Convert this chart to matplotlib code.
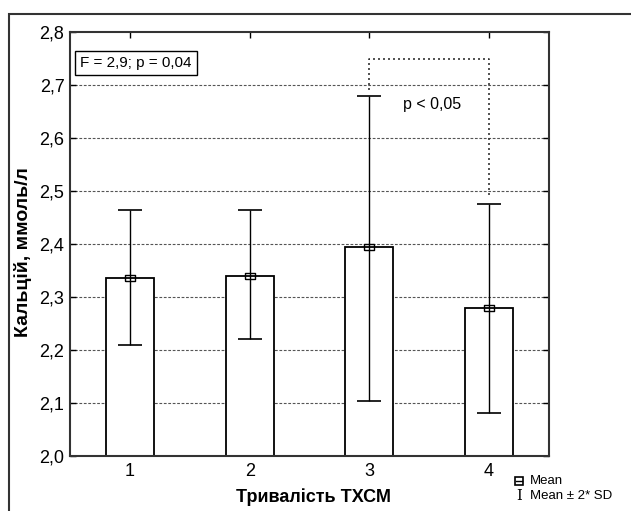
import matplotlib.pyplot as plt
import numpy as np
from matplotlib.lines import Line2D
from matplotlib.patches import Rectangle
from matplotlib.path import Path

plt.rcParams['font.family'] = ['Liberation Sans', 'DejaVu Sans']

groups = [1, 2, 3, 4]
means = [2.335, 2.34, 2.395, 2.28]
lower = [2.21, 2.22, 2.103, 2.081]
upper = [2.465, 2.465, 2.68, 2.475]
yticks = [2.0, 2.1, 2.2, 2.3, 2.4, 2.5, 2.6, 2.7, 2.8]

x = np.array(groups)
m = np.array(means)
err = [m - np.array(lower), np.array(upper) - m]

fig = plt.figure(figsize=(6.31, 5.11), dpi=100)
ax = fig.add_axes([70/631, 1 - 456/511, 479/631, 424/511])

# outer frame
fig.add_artist(Rectangle((9/631, -0.1), 1.2, 1.1 - 14/511, transform=fig.transFigure,
                         fill=False, edgecolor='#333333', lw=1.5))

for yv in yticks[1:-1]:
    ax.axhline(yv, color='#555555', lw=0.8, ls=(0, (2.5, 1.5)), zorder=0)

ax.bar(x, m - 2.0, bottom=2.0, width=0.4, color='white', edgecolor='black', lw=1.3, zorder=2)
ax.errorbar(x, m, yerr=err, fmt='none', ecolor='black', elinewidth=1.0,
            capsize=8.5, capthick=1.2, zorder=3)

rect = Path([(-1.5, -1), (1.5, -1), (1.5, 1), (-1.5, 1), (-1.5, -1)])
ax.plot(x, m, ls='none', marker=rect, markersize=7, markerfacecolor='none',
        markeredgecolor='black', markeredgewidth=1.0, zorder=4)

# significance bracket
ax.plot([3, 3, 4, 4], [2.69, 2.75, 2.75, 2.489], color='#333333', lw=1.2,
        ls=(0, (1.2, 1.8)), zorder=3)
ax.text(3.28, 2.663, 'p < 0,05', fontsize=11.5, va='center', ha='left')

ax.text(0.021, 0.927, 'F = 2,9; p = 0,04', transform=ax.transAxes, fontsize=11,
        va='center', ha='left',
        bbox=dict(boxstyle='square,pad=0.35', facecolor='white', edgecolor='black', lw=1.0))

ax.set_xlim(0.5, 4.5)
ax.set_ylim(2.0, 2.8)
ax.set_xticks(x)
ax.set_xticklabels([str(g) for g in groups], fontsize=13)
ax.set_yticks(yticks)
ax.set_yticklabels([f'{v:.1f}'.replace('.', ',') for v in yticks], fontsize=13)
ax.tick_params(direction='in', top=True, right=True, length=4, width=1, pad=5)
ax.tick_params(axis='y', pad=4)
for s in ax.spines.values():
    s.set_linewidth(1.5)
    s.set_color('#333333')

ax.set_xlabel('Тривалість ТХСМ', fontsize=13, fontweight='bold', va='center')
ax.xaxis.set_label_coords(0.509, -0.097)
ax.set_ylabel('Кальцій, ммоль/л', fontsize=14, fontweight='bold', va='center')
ax.yaxis.set_label_coords(-0.098, 0.481)

# legend outside the plot
fig.add_artist(Line2D([519/631], [1 - 481/511], marker='s', markersize=6, ls='none',
                      markerfacecolor='none', markeredgecolor='black', markeredgewidth=1.2,
                      transform=fig.transFigure))
fig.add_artist(Line2D([516/631, 522/631], [1 - 481/511, 1 - 481/511], color='black', lw=1,
                      transform=fig.transFigure))
fig.text(530/631, 1 - 481/511, 'Mean', fontsize=9.5, va='center', ha='left')
fig.text(519/631, 1 - 496/511, 'I', fontsize=10.5, va='center', ha='center', family='DejaVu Serif')
fig.text(530/631, 1 - 496/511, 'Mean ± 2* SD', fontsize=9.5, va='center', ha='left')

fig.savefig('out.png', dpi=100)
